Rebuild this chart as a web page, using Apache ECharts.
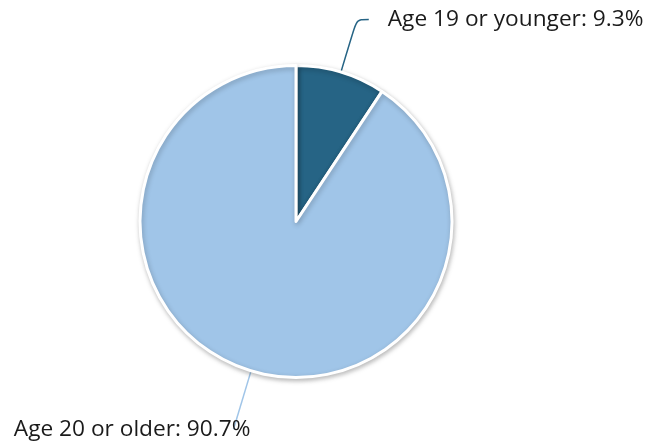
<!DOCTYPE html>
<html>
<head>
<meta charset="utf-8">
<script src="https://cdn.jsdelivr.net/npm/echarts@6/dist/echarts.min.js"></script>
<style>
  html, body { margin: 0; padding: 0; background: #fff; }
  #chart { width: 645px; height: 447px; }
</style>
</head>
<body>
<div id="chart"></div>
<script>
// age groups and their shares (%)
var categories = ["Age 19 or younger", "Age 20 or older"];
var shares = [9.3, 90.7];
var colors = ["#266485", "#a0c5e8"];

var chart = echarts.init(document.getElementById("chart"));

var pieData = categories.map(function (name, i) {
  var item = {
    name: name,
    value: shares[i],
    itemStyle: { color: colors[i] },
    labelLine: { lineStyle: { color: colors[i], width: 1.5 } }
  };
  if (i === 0) {
    item.labelLine.length = 55;
    item.labelLine.length2 = 12;
    item.labelLine.smooth = 0.3;
    item.label = { distanceToLabelLine: 19 };
  } else {
    item.labelLine.length = 61;
    item.labelLine.length2 = 0;
    item.label = { distanceToLabelLine: -17 };
  }
  return item;
});

var option = {
  animation: false,
  series: [
    {
      type: "pie",
      center: [296, 221.5],
      radius: 156,
      startAngle: 90,
      clockwise: true,
      data: pieData,
      itemStyle: {
        borderColor: "#fff",
        borderWidth: 3,
        shadowBlur: 5,
        shadowColor: "rgba(0,0,0,0.25)",
        shadowOffsetX: 1,
        shadowOffsetY: 2
      },
      label: {
        show: true,
        position: "outside",
        overflow: "none",
        edgeDistance: 0,
        formatter: function (p) { return p.name + ": " + p.value + "%"; },
        fontFamily: "Open Sans",
        fontSize: 22.7,
        color: "#1a1a1a"
      },
      labelLine: { show: true }
    }
  ]
};

chart.setOption(option);
</script>
</body>
</html>
